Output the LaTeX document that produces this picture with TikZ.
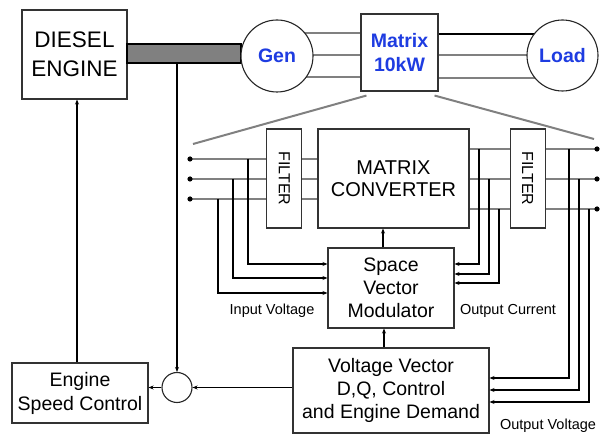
\documentclass[tikz,border=0pt]{standalone}
\usepackage{fontspec}
\setmainfont{Liberation Sans}
\usetikzlibrary{arrows.meta, positioning, calc, backgrounds}
\definecolor{genblue}{RGB}{30,60,225}
\definecolor{busgray}{RGB}{128,128,128}

\begin{document}
\begin{tikzpicture}[
    x=1pt, y=-1pt,
    block/.style={
        rectangle,
        draw=black!80,
        line width=1.1pt,
        fill=white,
        align=center,
        inner sep=0pt,
        font=\fontsize{19.5}{23}\selectfont
    },
    machine/.style={
        circle,
        draw=black!85,
        line width=1.1pt,
        fill=white,
        inner sep=0pt,
        minimum size=72pt,
        text=genblue,
        font=\fontsize{19.5}{24}\selectfont\bfseries
    },
    filterbox/.style={block, minimum width=35pt, minimum height=99pt, font=\fontsize{16}{18}\selectfont},
    wire/.style={draw=busgray, line width=1.6pt},
    sigtext/.style={font=\fontsize{14.5}{16}\selectfont},
    arrow/.style={-{Stealth[length=5pt, width=4pt]}, line width=1.3pt}
]
    \useasboundingbox (0,0) rectangle (603,435);

    % Top row: engine, shaft, generator, matrix, load
    \node [block, minimum width=105pt, minimum height=89pt, font=\fontsize{22.5}{29}\selectfont] (engine) at (74.5,54.5) {DIESEL\\ENGINE};
    \node [block, fill=busgray, draw=black, minimum width=114pt, minimum height=19pt] (shaft) at (184,53.5) {};
    \node [machine] (gen) at (277,56) {Gen};
    \node [block, minimum width=77pt, minimum height=77pt, text=genblue, font=\fontsize{19.5}{24}\selectfont\bfseries] (matrix) at (399.5,52.5) {Matrix\\10kW};
    \node [machine, minimum size=71pt] (load) at (562.5,55.5) {Load};

    % Converter detail
    \node [block, minimum width=151pt, minimum height=99pt, font=\fontsize{20}{22.5}\selectfont] (conv) at (393.5,178.5) {MATRIX\\CONVERTER};
    \node [filterbox, left=15pt of conv] (fltin) {\rotatebox{-90}{FILTER}};
    \node [filterbox, right=40pt of conv] (fltout) {\rotatebox{-90}{FILTER}};

    \node [block, minimum width=126pt, minimum height=80pt] (svm) at (391,288) {Space\\Vector\\Modulator};
    \node [block, minimum width=196pt, minimum height=85pt] (vvc) at (391,390.5) {Voltage Vector\\D,Q, Control\\and Engine Demand};

    % Speed loop
    \node [circle, draw=black!85, line width=1.1pt, fill=white, minimum size=30pt, inner sep=0pt] (sum) at (177,387.5) {};
    \node [block, minimum width=136pt, minimum height=60pt, font=\fontsize{19.5}{24}\selectfont] (esc) at (80,393) {Engine\\Speed Control};

    % Terminals
    \foreach \i/\y in {1/159,2/179,3/199} \coordinate (in\i) at (190,\y);
    \foreach \i/\y in {1/149,2/179,3/209} \coordinate (out\i) at (597,\y);
    \coordinate (zoomL) at (193,144);
    \coordinate (zoomR) at (594,139);

    % Power lines behind the blocks
    \begin{scope}[on background layer]
        \foreach \y in {33,55,77}
            \draw [wire] (gen.center |- 0,\y) -- (matrix.west |- 0,\y);
        \draw [wire, draw=black] (matrix.east |- 0,34) -- (load.center |- 0,34);
        \foreach \y in {55,78}
            \draw [wire] (matrix.east |- 0,\y) -- (load.center |- 0,\y);
        \foreach \i in {1,2,3} {
            \draw [wire] (in\i) -- (in\i -| conv.west);
            \draw [wire] (out\i -| conv.east) -- (out\i);
        }
    \end{scope}

    \draw [wire, line width=2pt] ($(matrix.south west)+(6,4)$) -- (zoomL);
    \draw [wire, line width=2pt] ($(matrix.south east)+(-4,4)$) -- (zoomR);

    \foreach \i in {1,2,3} {
        \fill (in\i) circle[radius=2.6pt];
        \fill (out\i) circle[radius=2.6pt];
    }

    % Measurement taps
    \foreach \x/\i/\t in {248/1/264, 233/2/278, 218/3/293}
        \draw [arrow] (\x,0 |- in\i) |- (svm.west |- 0,\t);
    \foreach \x/\i/\t in {479/1/264, 489/2/274, 499/3/283}
        \draw [arrow, line width=1.8pt] (\x,0 |- out\i) |- (svm.east |- 0,\t);
    \foreach \x/\i/\t in {569/1/378, 579/2/390, 589/3/402}
        \draw [arrow] (\x,0 |- out\i) |- (vvc.east |- 0,\t);

    \node [sigtext] (invlab) at (272,311) {Input Voltage};
    \node [sigtext] (outclab) at (508,311) {Output Current};
    \node [sigtext] (outvlab) at (548,426) {Output Voltage};

    % Control connections
    \draw [arrow] (384,0 |- vvc.north) -- (384,0 |- svm.south);
    \draw [arrow] (383,0 |- svm.north) -- (383,0 |- conv.south);
    \draw [arrow] (vvc.west |- sum) -- (sum);
    \draw [arrow] (sum) -- (esc.east |- sum);
    \draw [arrow] (77,0 |- esc.north) -- (77,0 |- engine.south);
    \draw [arrow] (shaft.south -| sum) -- (sum);

\end{tikzpicture}
\end{document}
